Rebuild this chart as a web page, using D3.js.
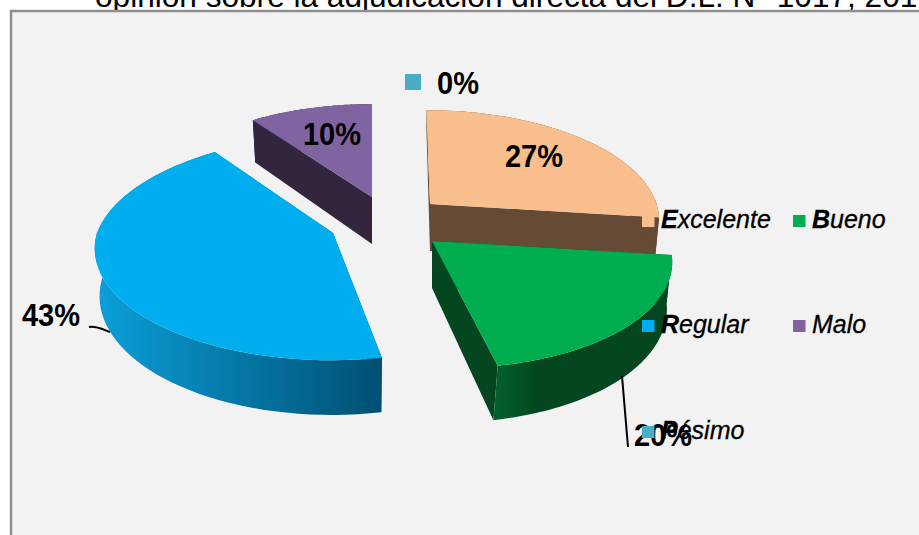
<!DOCTYPE html>
<html>
<head>
<meta charset="utf-8">
<script src="https://cdn.jsdelivr.net/npm/d3@7"></script>
<style>
  html, body { margin: 0; padding: 0; background: #fff; }
  svg { display: block; }
  text { font-family: "Liberation Sans", Arial, sans-serif; fill: #000; }
</style>
</head>
<body>
<svg id="chart" width="919" height="535"></svg>
<script>
// values
const categories = ["Excelente", "Bueno", "Regular", "Malo", "Pésimo"];
const values = [27, 20, 43, 10, 0];
const title = "opinión sobre la adjudicación directa del D.L. N° 1017, 201";

const topColors = ["#f9be8e", "#00ae4f", "#00aeef", "#8064a2", "#4bacc6"];
const wallColors = ["#654a36", "url(#greenWall)", "url(#blueWall)", "#32263f", "#4bacc6"];

const width = 919, height = 535;
const svg = d3.select("#chart");

// pie centre and tilt of the fake 3d view
const cx = 333, cy = 233;
const radius = 236, tilt = 0.4686, persp = 0.131, depth = 47;

// how each slice is pulled out of the pie
const explode = [
  { dx: 97, dy: -29, scale: 0.96, skew: 0.04, backSkew: 0.04 },
  { dx: 99, dy: 8, scale: 1, skew: 0.12, backSkew: 0.12 },
  { dx: 0, dy: 0, scale: 1, skew: -0.015, backSkew: -0.09 },
  { dx: 39, dy: -36, scale: 0.95, skew: 0, backSkew: 0 },
  { dx: 0, dy: 0, scale: 1, skew: 0, backSkew: 0 }
];

// label spots, same order as categories
const labelPos = [[534, 167], [663, 446], [51, 326], [332, 145], [458, 94]];
const legendPos = [[642, 215], [793, 215], [642, 320], [793, 320], [642, 426]];

const pie = d3.pie().sort(null).startAngle(0).endAngle(2 * Math.PI);
const slices = pie(values);
const line = d3.line();

// background box with the title peeking out above it
svg.append("text")
  .attr("x", 95).attr("y", 7)
  .attr("font-size", 31.6)
  .text(title);

svg.append("rect")
  .attr("x", 11).attr("y", 11)
  .attr("width", width + 20).attr("height", height + 20)
  .attr("fill", "#f2f2f2")
  .attr("stroke", "#8e8e8e")
  .attr("stroke-width", 2.5);

const defs = svg.append("defs");
const blueGrad = defs.append("linearGradient")
  .attr("id", "blueWall")
  .attr("gradientUnits", "userSpaceOnUse")
  .attr("x1", 100).attr("x2", 382).attr("y1", 0).attr("y2", 0);
blueGrad.append("stop").attr("offset", "0%").attr("stop-color", "#0a9ed8");
blueGrad.append("stop").attr("offset", "100%").attr("stop-color", "#004f72");

const greenGrad = defs.append("linearGradient")
  .attr("id", "greenWall")
  .attr("gradientUnits", "userSpaceOnUse")
  .attr("x1", 495).attr("x2", 540).attr("y1", 0).attr("y2", 0);
greenGrad.append("stop").attr("offset", "0%").attr("stop-color", "#05602c");
greenGrad.append("stop").attr("offset", "100%").attr("stop-color", "#03461f");

// project a point of the rim onto the screen
function rim(a, i, bottom) {
  const e = explode[i];
  const s = e.scale / (1 + persp * Math.cos(a));
  let x = Math.sin(a) * radius * s;
  let y = -Math.cos(a) * radius * tilt * s;
  const skew = y < 0 ? e.backSkew : e.skew;
  x = x + skew * y;
  if (bottom) {
    x = x * 0.98 - skew * 0.2 * y;
    y = y * 1.06 + depth;
  }
  return [cx + e.dx + x, cy + e.dy + y];
}

function apex(i, bottom) {
  const e = explode[i];
  return [cx + e.dx, cy + e.dy + (bottom ? depth : 0)];
}

function arcPoints(d, i, bottom) {
  return d3.range(0, 61).map(k => rim(d.startAngle + (d.endAngle - d.startAngle) * k / 60, i, bottom));
}

// draw back to front so the green one sits on the brown wall
const order = [0, 3, 2, 1];
order.forEach(i => {
  const d = slices[i];
  const g = svg.append("g").attr("class", "slice");
  const top = arcPoints(d, i, false);
  const bot = arcPoints(d, i, true);

  // start wall, end wall, outer wall
  g.append("path").attr("fill", i == 1 ? "#03461f" : wallColors[i])
    .attr("d", line([apex(i), top[0], bot[0], apex(i, true)]) + "Z");
  g.append("path").attr("fill", i == 1 ? "#03461f" : wallColors[i])
    .attr("d", line([apex(i), top[60], bot[60], apex(i, true)]) + "Z");
  g.append("path").attr("fill", wallColors[i])
    .attr("d", line(top.concat(bot.slice().reverse())) + "Z");

  g.append("path").attr("fill", topColors[i])
    .attr("d", line([apex(i)].concat(top)) + "Z");
});

// leader lines
svg.append("path").attr("fill", "none").attr("stroke", "#000").attr("stroke-width", 2)
  .attr("d", "M622,376L628,447");
svg.append("path").attr("fill", "none").attr("stroke", "#000").attr("stroke-width", 2)
  .attr("d", "M89,327C97,326 102,329 110,332");

// percent labels
svg.selectAll(".pct").data(values).enter().append("text")
  .attr("class", "pct")
  .attr("text-anchor", "middle")
  .attr("font-weight", "bold")
  .attr("font-size", 29)
  .attr("transform", (d, i) => `translate(${labelPos[i][0]},${labelPos[i][1]}) scale(1,1.08)`)
  .text(d => d + "%");

// 0% marker next to its label
svg.append("rect")
  .attr("x", 405).attr("y", 74).attr("width", 16).attr("height", 16)
  .attr("fill", topColors[4]);

// legend
const legend = svg.selectAll(".leg").data(categories).enter().append("g")
  .attr("class", "leg")
  .attr("transform", (d, i) => `translate(${legendPos[i][0]},${legendPos[i][1]})`);
legend.append("rect")
  .attr("width", 12.5).attr("height", 12)
  .attr("fill", (d, i) => topColors[i]);
const legText = legend.append("text")
  .attr("x", 19).attr("y", 13)
  .attr("font-size", 25)
  .attr("font-style", "italic")
  .attr("stroke", "#000")
  .attr("stroke-width", 0.3);
legText.append("tspan")
  .attr("font-weight", d => d == "Malo" ? "normal" : "bold")
  .text(d => d[0]);
legText.append("tspan").text(d => d.slice(1));
</script>
</body>
</html>
